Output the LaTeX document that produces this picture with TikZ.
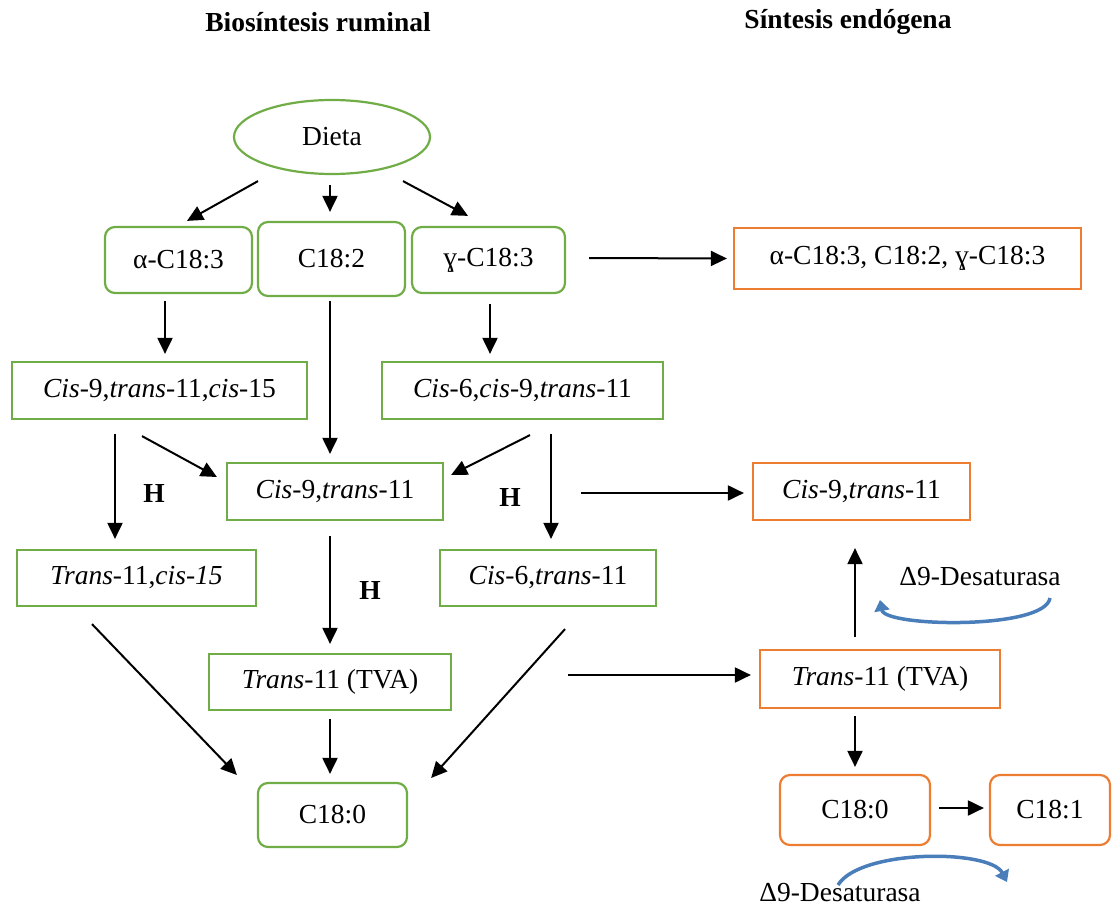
\documentclass[tikz,border=0pt]{standalone}
\usepackage{fontspec}
\setmainfont{Liberation Serif}
\usetikzlibrary{arrows.meta,shapes.geometric,calc}
\definecolor{gr}{HTML}{70AD47}
\definecolor{og}{HTML}{ED7D31}
\definecolor{bl}{HTML}{4A7EBB}
\begin{document}
\begin{tikzpicture}[x=1pt,y=-1pt,font=\fontsize{27.5}{32}\selectfont,
  box/.style={line width=2.2pt,inner sep=0pt,minimum height=56pt},
  gbox/.style={box,draw=gr},
  obox/.style={box,draw=og},
  rbox/.style={rounded corners=10pt},
  arr/.style={line width=2pt,-{Triangle[length=16pt,width=15pt]}},
  barr/.style={draw=bl,line width=3.5pt,-{Triangle[length=11pt,width=15pt]}},
  hl/.style={font=\fontsize{27.5}{32}\selectfont\bfseries}]
\useasboundingbox (0,0) rectangle (1113,909);
% titles
\node[hl] (t1) at (318,22) {Biosíntesis ruminal};
\node[hl] (t2) at (848,22) {Síntesis endógena};
% nodes
\node[ellipse,draw=gr,line width=2.2pt,minimum width=196pt,minimum height=74pt,inner sep=0pt] (dieta) at (332,137) {Dieta};
\node[gbox,rbox,minimum width=147pt,minimum height=66pt] (alpha) at (178.5,260) {α-C18:3};
\node[gbox,rbox,minimum width=147pt,minimum height=74pt] (c182) at (331.5,259) {C18:2};
\node[gbox,rbox,minimum width=153pt,minimum height=66pt] (gamma) at (488.5,260) {ɣ-C18:3};
\node[obox,minimum width=347pt,minimum height=61pt] (oall) at (907.5,258.5) {α-C18:3, C18:2, ɣ-C18:3};
\node[gbox,minimum width=295pt,minimum height=57pt] (c91115) at (159.5,390.5) {\textit{Cis}-9,\textit{trans}-11,\textit{cis}-15};
\node[gbox,minimum width=281pt,minimum height=57pt] (c6911) at (522.5,390.5) {\textit{Cis}-6,\textit{cis}-9,\textit{trans}-11};
\node[gbox,minimum width=216pt,minimum height=57pt] (c911) at (335,491.5) {\textit{Cis}-9,\textit{trans}-11};
\node[obox,minimum width=217pt,minimum height=57pt] (oc911) at (861.5,491.5) {\textit{Cis}-9,\textit{trans}-11};
\node[gbox,minimum width=239pt] (t11c15) at (136.5,578) {\textit{Trans}-11,\textit{cis-15}};
\node[gbox,minimum width=216pt] (c6t11) at (548,578) {\textit{Cis}-6,\textit{trans}-11};
\node[gbox,minimum width=242pt] (tva) at (330,682) {\textit{Trans}-11 (TVA)};
\node[obox,minimum width=240pt,minimum height=58pt] (otva) at (880,679) {\textit{Trans}-11 (TVA)};
\node[gbox,rbox,minimum width=149pt,minimum height=64pt] (c180) at (332.5,815) {C18:0};
\node[obox,rbox,minimum width=150pt,minimum height=70pt] (oc180) at (855,810) {C18:0};
\node[obox,rbox,minimum width=120pt,minimum height=70pt] (oc181) at (1050,810) {C18:1};
% labels
\node[hl] (h1) at (154,493) {H};
\node[hl] (h2) at (510,497) {H};
\node[hl] (h3) at (370,590) {H};
\node (des1) at (980,577) {Δ9-Desaturasa};
\node (des2) at (840,893) {Δ9-Desaturasa};
% arrows
\draw[arr] ($(dieta.south)+(-74,6)$) -- ($(alpha.north)+(8.5,-5)$);
\draw[arr] ($(dieta.south)+(-2,10)$) -- ($(c182.north)+(-1.5,-9)$);
\draw[arr] ($(dieta.south)+(71,6)$) -- ($(gamma.north)+(-20.5,-10)$);
\draw[arr] ($(gamma.east)+(23,-2)$) -- ($(oall.west)+(-6,0)$);
\draw[arr] ($(alpha.south)+(-13.5,7)$) -- ($(c91115.north)+(5.5,-7)$);
\draw[arr] ($(c182.south)+(-1.5,4)$) -- ($(c911.north)+(-5,-8)$);
\draw[arr] ($(gamma.south)+(1.5,10)$) -- ($(c6911.north)+(-32.5,-7)$);
\draw[arr] ($(c91115.south)+(-44.5,14)$) -- ($(t11c15.north)+(-21.5,-10)$);
\draw[arr] ($(c91115.south)+(-17.5,16)$) -- ($(c911.west)+(-9,-14.5)$);
\draw[arr] ($(c6911.south)+(7.5,15)$) -- ($(c911.east)+(7,-16.5)$);
\draw[arr] ($(c6911.south)+(28.5,14)$) -- ($(c6t11.north)+(3,-10)$);
\draw[arr] ($(c911.east)+(137,1.5)$) -- ($(oc911.west)+(-8,1.5)$);
\draw[arr] ($(c911.south)+(-5,15)$) -- ($(tva.north)+(0,-9)$);
\draw[arr] ($(t11c15.south)+(-44.5,17)$) -- ($(c180.west)+(-20,-40)$);
\draw[arr] ($(tva.south)+(0,8)$) -- ($(c180.north)+(-2.5,-8)$);
\draw[arr] ($(c6t11.south)+(17,22)$) -- ($(c180.east)+(23,-37)$);
\draw[arr] ($(tva.east)+(116,-7)$) -- ($(otva.west)+(-8,-4)$);
\draw[arr] ($(otva.north)+(-25,-12)$) -- ($(oc911.south)+(-6.5,27)$);
\draw[arr] ($(otva.south)+(-25,7)$) -- ($(oc180.north)+(0,-7)$);
\draw[arr] ($(oc180.east)+(8,-2)$) -- ($(oc181.west)+(-5,-2)$);
% curved enzyme arrows
\draw[barr] ($(des1)+(70,21)$) .. controls ($(des1)+(65,53)$) and ($(des1)+(-95,50)$) .. ($(des1)+(-100,23)$);
\draw[barr] ($(des2)+(-2,-8)$) .. controls ($(des2)+(20,-44)$) and ($(des2)+(150,-44)$) .. ($(des2)+(167,-11)$);
\end{tikzpicture}
\end{document}
